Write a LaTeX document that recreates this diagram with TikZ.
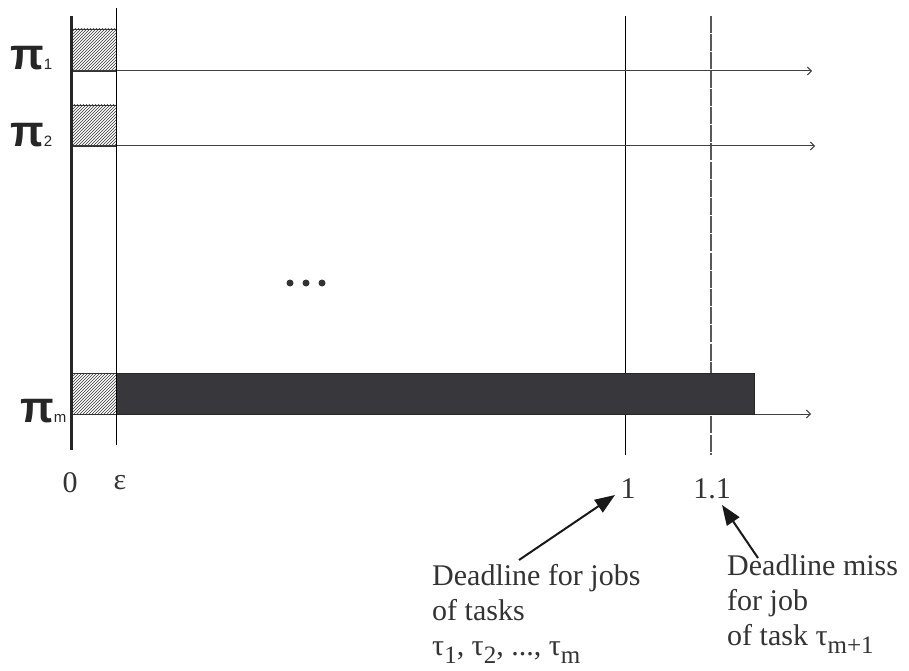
\documentclass[tikz,border=0pt]{standalone}
\usepackage{fontspec}
\setmainfont{Liberation Serif}
\newfontfamily\pisans{Liberation Sans}
\usetikzlibrary{patterns,arrows.meta}
\definecolor{darkbar}{RGB}{56,55,60}
\newcommand{\lowsub}[1]{\raisebox{-8pt}{\fontsize{25}{25}\selectfont #1}}
\newcommand{\pilabel}[1]{{\pisans\fontsize{44}{44}\selectfont\bfseries π\mdseries\fontsize{15}{15}\selectfont #1}}
\begin{document}
\begin{tikzpicture}[x=1pt,y=-1pt,
  axisline/.style={line width=3pt, draw=black!85},
  thinline/.style={line width=1pt, draw=black},
  timeline/.style={line width=1pt, draw=black!75, -{Straight Barb[length=4pt,width=8pt,line width=1pt]}},
  hatchbox/.style={draw=black!80, line width=0.8pt, pattern=north east lines, pattern color=black!80},
  txt/.style={font=\fontsize{30}{35}\selectfont, text=black!80, inner sep=0pt, align=left},
  callout/.style={line width=2pt, draw=black!90, -{Triangle[length=20pt,width=15pt]}}]
\useasboundingbox (0,0) rectangle (909,671);

% vertical deadline lines
\draw[thinline] (625,16) -- (625,455);
\draw[line width=1.5pt, draw=black!65, dash pattern=on 17pt off 1.2pt] (711,16) -- (711,455);

% timelines
\draw[timeline] (71,71) -- (812,71);
\draw[timeline] (71,146) -- (815,146);
\draw[timeline] (754,414) -- (811,414);

% hatched boxes
\draw[hatchbox] (71,29) rectangle (116,71);
\draw[hatchbox] (71,105) rectangle (116,146);
\draw[hatchbox] (71,373) rectangle (116,414);

% long execution bar
\draw[fill=darkbar, draw=black!85, line width=0.8pt] (116,373) rectangle (754,414);

% axes
\draw[thinline] (116,8) -- (116,445);
\draw[axisline] (71,16) -- (71,450);

% dots
\foreach \xx in {290,306,322} \fill[black!80] (\xx,283) circle (3.5pt);

% processor labels
\node[anchor=base west, inner sep=0pt, text=black!85] (p1) at (10,70) {\pilabel{1}};
\node[anchor=base west, inner sep=0pt, text=black!85] (p2) at (10,147) {\pilabel{2}};
\node[anchor=base west, inner sep=0pt, text=black!85] (pm) at (20,422) {\pilabel{m}};

% axis labels
\node[txt, anchor=base] (zero) at (70,492) {0};
\node[txt, anchor=base] (eps) at (120,489) {ε};
\node[txt, anchor=base] (one) at (628,498) {1};
\node[txt, anchor=base] (onepone) at (712,498) {1.1};

% callouts
\node[txt, anchor=base west] (dl1) at (432,655) {Deadline for jobs\\of tasks\\τ\lowsub{1}, τ\lowsub{2}, ..., τ\lowsub{m}};
\node[txt, anchor=base west] (dl2) at (727,645) {Deadline miss\\for job\\of task τ\lowsub{m+1}};
\coordinate (a1s) at (519,560);
\coordinate (a1e) at (615,495);
\coordinate (a2s) at (758,558);
\coordinate (a2e) at (722,505);
\draw[callout] (a1s) -- (a1e);
\draw[callout] (a2s) -- (a2e);
\end{tikzpicture}
\end{document}
